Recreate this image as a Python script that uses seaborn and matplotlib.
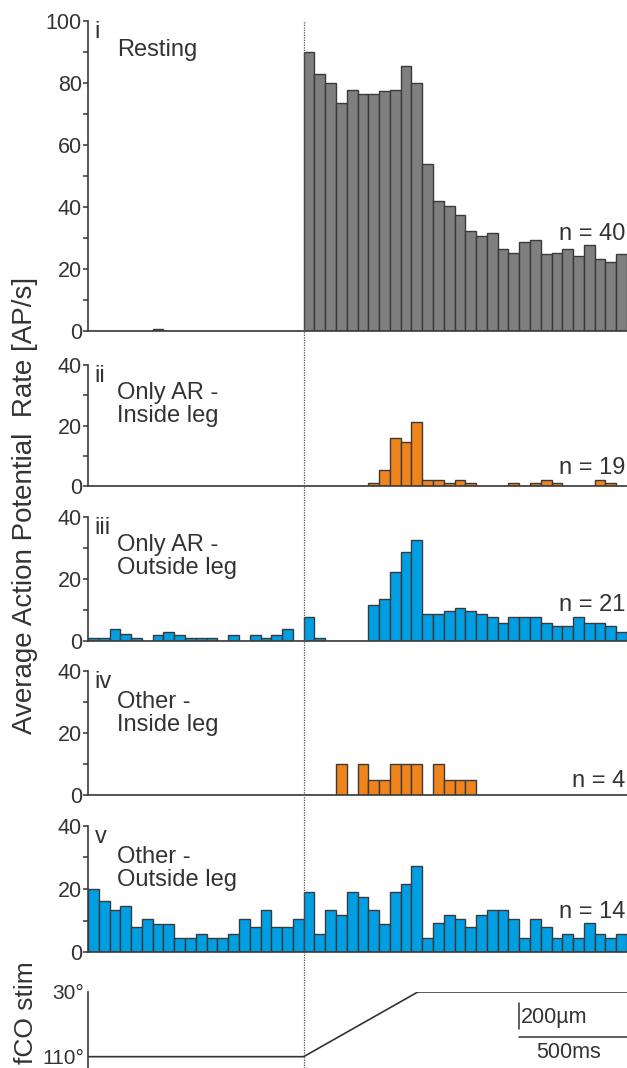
import numpy as np
import pandas as pd
import matplotlib
matplotlib.use("Agg")
import matplotlib.pyplot as plt
import matplotlib.transforms as mtransforms
from matplotlib.lines import Line2D
from matplotlib.ticker import MultipleLocator
import seaborn as sns

# Peri-stimulus time histograms, 50 ms bins from -1000 ms to 1500 ms
bin_ms = 50
t_start, t_end = -1000, 1500

resting = [0, 0, 0, 0, 0, 0, 0.7, 0, 0, 0, 0, 0, 0, 0, 0, 0, 0, 0, 0, 0,
           90, 83, 80, 73.5, 77.7, 76.5, 76.5, 77.4, 77.8, 85.6,
           80, 54, 41.8, 40.3, 37.5, 32.3, 30.6, 31.7, 26.6, 25.1,
           28.7, 29.2, 24.7, 25.3, 26.6, 24.3, 27.7, 23.2, 22.3, 24.7]

only_ar_inside = [0] * 20 + [
    0, 0, 0, 0, 0, 0, 1.05, 5.3, 15.8, 14.7,
    21.1, 2.1, 2.1, 1.05, 2.1, 1.05, 0, 0, 0, 1.05,
    0, 1.05, 2.1, 1.05, 0, 0, 0, 2.1, 1.05, 0]

only_ar_outside = [1, 1, 3.8, 2.4, 1, 0, 1.9, 2.9, 1.9, 1,
                   1, 1, 0, 1.9, 0, 1.9, 1, 1.9, 3.8, 0,
                   7.6, 1, 0, 0, 0, 0, 11.5, 13.4, 22.2, 28.7,
                   32.6, 8.6, 8.6, 9.6, 10.5, 9.6, 8.6, 7.6, 5.7, 7.6,
                   7.6, 7.6, 5.7, 4.8, 4.8, 7.6, 5.7, 5.7, 4.8, 2.9]

other_inside = [0] * 20 + [
    0, 0, 0, 10, 0, 10, 5, 5, 10, 10,
    10, 0, 10, 5, 5, 5, 0, 0, 0, 0,
    0, 0, 0, 0, 0, 0, 0, 0, 0, 0]

other_outside = [20, 16.1, 13.3, 14.6, 7.8, 10.4, 8.8, 8.8, 4.3, 4.3,
                 5.7, 4.3, 4.3, 5.7, 10.4, 7.8, 13.3, 7.8, 7.8, 10.4,
                 19.0, 5.7, 13.3, 11.8, 19.0, 17.5, 13.4, 9.0, 19.0, 21.7,
                 27.4, 4.3, 9.1, 11.8, 10.6, 7.8, 11.8, 13.4, 13.4, 10.6,
                 4.3, 10.6, 7.8, 4.3, 5.7, 4.3, 9.1, 5.7, 4.3, 5.7]

panel_ids = ["i", "ii", "iii", "iv", "v"]
panel_titles = ["Resting", "Only AR -\nInside leg", "Only AR -\nOutside leg",
                "Other -\nInside leg", "Other -\nOutside leg"]
panel_n = ["n = 40", "n = 19", "n = 21", "n = 4", "n = 14"]
panel_ymax = [100, 40, 40, 40, 40]

# Femoral chordotonal organ stimulus (joint angle in degrees)
stim_t = [-1000, 0, 530, 1500]
stim_angle = [110, 110, 30, 30]

GRAY = "#7f7f7f"
ORANGE = "#f0841c"
BLUE = "#009fe3"
panel_colors = [GRAY, ORANGE, BLUE, ORANGE, BLUE]
EDGE = "#3a3a3a"
INK = "#333333"

sns.set_theme(style="ticks")
plt.rcParams["font.family"] = ["Liberation Sans", "DejaVu Sans"]
plt.rcParams["text.color"] = INK
plt.rcParams["axes.labelcolor"] = INK
plt.rcParams["xtick.color"] = INK
plt.rcParams["ytick.color"] = INK

fig = plt.figure(figsize=(6.27, 10.68), dpi=100)

left, width = 0.1404, 0.8596
boxes = [(0.6901, 0.2903), (0.5449, 0.1133), (0.3998, 0.1161),
         (0.2556, 0.1161), (0.1086, 0.1180)]
title_y = [0.906, 0.86, 0.865, 0.84, 0.84]
n_y = [0.313, 0.149, 0.29, 0.11, 0.32]
TXT = 17

centers = np.arange(t_start, t_end, bin_ms) + bin_ms / 2
series = [resting, only_ar_inside, only_ar_outside, other_inside, other_outside]

axes = []
for k, (vals, color) in enumerate(zip(series, panel_colors)):
    bottom, height = boxes[k]
    ax = fig.add_axes([left, bottom, width, height])
    df = pd.DataFrame({"t": centers, "rate": vals})
    sns.histplot(data=df, x="t", weights="rate", binwidth=bin_ms,
                 binrange=(t_start, t_end), ax=ax, stat="count",
                 color=color, alpha=1, edgecolor=EDGE, linewidth=1.0)
    ax.set_xlim(t_start, t_end)
    ax.set_ylim(0, panel_ymax[k])
    ax.set_xlabel("")
    ax.set_ylabel("")
    ax.yaxis.set_major_locator(MultipleLocator(20))
    ax.yaxis.set_minor_locator(MultipleLocator(10))
    ax.tick_params(axis="x", bottom=False, labelbottom=False)
    ax.tick_params(axis="y", which="major", length=3.5, width=1.1,
                   labelsize=15.5, pad=1)
    ax.tick_params(axis="y", which="minor", length=3.5, width=1.1)
    sns.despine(ax=ax)
    for side in ("left", "bottom"):
        ax.spines[side].set_color(EDGE)
        ax.spines[side].set_linewidth(1.2)
    ax.patch.set_alpha(0)
    ax.text(0.012, 1.0, panel_ids[k], transform=ax.transAxes,
            ha="left", va="top", fontsize=TXT)
    ax.text(0.054, title_y[k], panel_titles[k], transform=ax.transAxes,
            ha="left", va="top" if k else "center", fontsize=TXT,
            linespacing=1.07)
    ax.text(0.997, n_y[k], panel_n[k], transform=ax.transAxes,
            ha="right", va="center", fontsize=TXT)
    axes.append(ax)

# Stimulus trace
ax_s = fig.add_axes([left, 0.0, width, 0.0712])
stim = pd.DataFrame({"t": stim_t, "angle": stim_angle})
sns.lineplot(data=stim, x="t", y="angle", ax=ax_s, color=INK, linewidth=1.2)
ax_s.set_xlim(t_start, t_end)
ax_s.set_ylim(124, 30)
ax_s.set_yticks([30, 110])
ax_s.set_yticklabels(["30°", "110°"])
ax_s.tick_params(axis="y", length=0, labelsize=15, pad=3)
ax_s.tick_params(axis="x", bottom=False, labelbottom=False)
ax_s.set_xlabel("")
ax_s.set_ylabel("")
sns.despine(ax=ax_s, bottom=True)
ax_s.spines["left"].set_color(EDGE)
ax_s.spines["left"].set_linewidth(1.2)
ax_s.patch.set_alpha(0)

# Scale bars: 200 µm vertical, 500 ms horizontal
ax_s.plot([1000, 1000], [44, 76], color=INK, linewidth=1.1)
ax_s.plot([1000, 1500], [85.6, 85.6], color=INK, linewidth=1.1,
          clip_on=False)
ax_s.text(1010, 61, "200µm", ha="left", va="center", fontsize=15.5)
ax_s.text(1230, 105, "500ms", ha="center", va="center", fontsize=15.5)

# Stimulus onset marker through all panels
trans = mtransforms.blended_transform_factory(axes[0].transData,
                                              fig.transFigure)
fig.add_artist(Line2D([0, 0], [0.0, 0.980], transform=trans,
                      color="#555555", linewidth=0.9,
                      linestyle=(0, (1, 1))))

fig.text(0.040, 0.527, "Average Action Potential  Rate [AP/s]",
         rotation=90, ha="center", va="center", fontsize=20)
fig.text(0.042, 0.0515, "fCO stim", rotation=90, ha="center", va="center",
         fontsize=19)

fig.savefig("out.png", dpi=100)
